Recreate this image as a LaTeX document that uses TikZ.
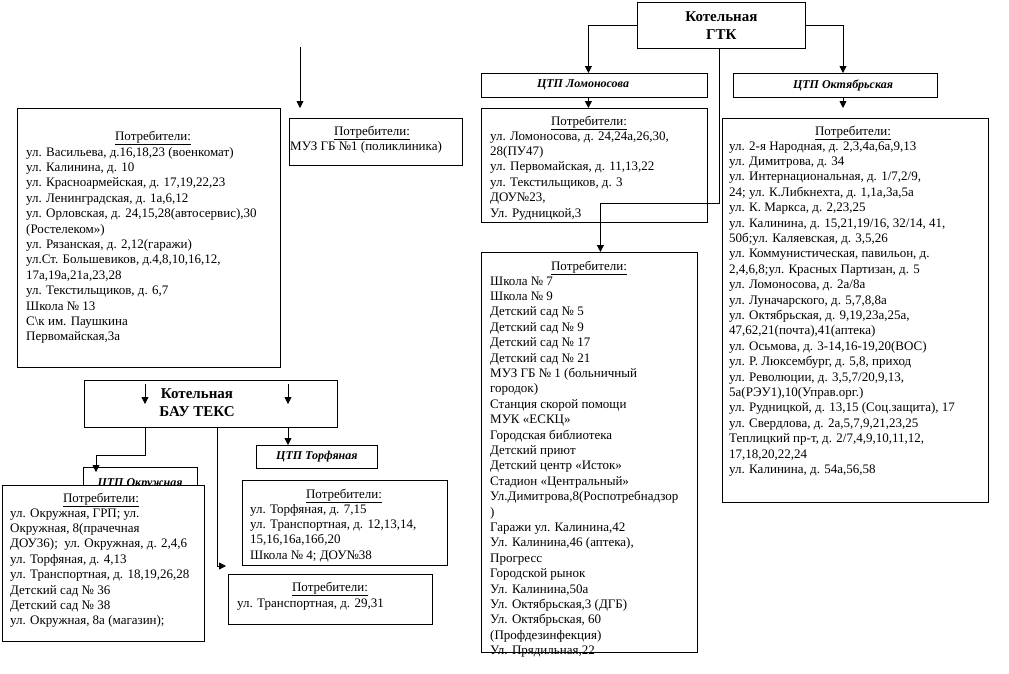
\documentclass[tikz,border=0pt]{standalone}
\usepackage{fontspec}
\setmainfont{Liberation Serif}
\usetikzlibrary{arrows.meta}
\begin{document}
\begin{tikzpicture}[x=1pt,y=-1pt,
  box/.style={draw, line width=0.8pt, fill=white, inner sep=0pt, anchor=north west},
  hd/.style={font=\fontsize{13}{15.4}\selectfont, inner sep=0pt, anchor=base},
  lst/.style={font=\fontsize{13}{15.4}\selectfont, align=left, inner sep=0pt, anchor=north west},
  ttl/.style={font=\fontsize{15}{18}\selectfont\bfseries, align=center},
  ctp/.style={font=\fontsize{12}{14}\selectfont\bfseries\itshape},
  arr/.style={line width=0.8pt, -{Triangle[length=7pt,width=7pt]}}
]
\useasboundingbox (0,0) rectangle (1009,673);

% ---------- Котельная ГТК ----------
\node[box, ttl, minimum width=168pt, minimum height=46pt] (gtk) at (637,2) {Котельная\\ГТК};
\node[box, minimum width=226pt, minimum height=24pt] (lomT) at (481,73) {};
\node[ctp] at (583,85) {ЦТП Ломоносова};
\node[box, minimum width=204pt, minimum height=24pt] (oktT) at (733,73) {};
\node[ctp] at (843,85) {ЦТП Октябрьская};

\node[box, minimum width=226pt, minimum height=114pt] (lomC) at (481,108) {};
\node[hd] at (589,125) {\underline{Потребители:}};
\node[lst] at (490,129.2) {\strut ул. Ломоносова, д. 24,24а,26,30,\\
28(ПУ47)\\
ул. Первомайская, д. 11,13,22\\
ул. Текстильщиков, д. 3\\
ДОУ№23,\\
Ул. Рудницкой,3};

\node[box, minimum width=216pt, minimum height=400pt] (bigC) at (481,252) {};
\node[hd] at (589,270) {\underline{Потребители:}};
\node[lst] at (490,274.2) {\strut Школа № 7\\
Школа № 9\\
Детский сад № 5\\
Детский сад № 9\\
Детский сад № 17\\
Детский сад № 21\\
МУЗ ГБ № 1 (больничный\\
городок)\\
Станция скорой помощи\\
МУК «ЕСКЦ»\\
Городская библиотека\\
Детский приют\\
Детский центр «Исток»\\
Стадион «Центральный»\\
Ул.Димитрова,8(Роспотребнадзор\\
)\\
Гаражи ул. Калинина,42\\
Ул. Калинина,46 (аптека),\\
Прогресс\\
Городской рынок\\
Ул. Калинина,50а\\
Ул. Октябрьская,3 (ДГБ)\\
Ул. Октябрьская, 60\\
(Профдезинфекция)\\
Ул. Прядильная,22};

\node[box, minimum width=266pt, minimum height=384pt] (oktC) at (722,118) {};
\node[hd] at (853,135) {\underline{Потребители:}};
\node[lst] at (729,139.2) {\strut ул. 2-я Народная, д. 2,3,4а,6а,9,13\\
ул. Димитрова, д. 34\\
ул. Интернациональная, д. 1/7,2/9,\\
24; ул. К.Либкнехта, д. 1,1а,3а,5а\\
ул. К. Маркса, д. 2,23,25\\
ул. Калинина, д. 15,21,19/16, 32/14, 41,\\
50б;ул. Каляевская, д. 3,5,26\\
ул. Коммунистическая, павильон, д.\\
2,4,6,8;ул. Красных Партизан, д. 5\\
ул. Ломоносова, д. 2а/8а\\
ул. Луначарского, д. 5,7,8,8а\\
ул. Октябрьская, д. 9,19,23а,25а,\\
47,62,21(почта),41(аптека)\\
ул. Осьмова, д. 3-14,16-19,20(ВОС)\\
ул. Р. Люксембург, д. 5,8, приход\\
ул. Революции, д. 3,5,7/20,9,13,\\
5а(РЭУ1),10(Управ.орг.)\\
ул. Рудницкой, д. 13,15 (Соц.защита), 17\\
ул. Свердлова, д. 2а,5,7,9,21,23,25\\
Теплицкий пр-т, д. 2/7,4,9,10,11,12,\\
17,18,20,22,24\\
ул. Калинина, д. 54а,56,58};

\coordinate (oktA) at (843,108);
\draw[arr] (gtk.west) -| ([xshift=-6pt]lomT.north);
\draw[arr] (gtk.east) -| (oktA |- oktT.north);
\draw[arr] ([xshift=-6pt]lomT.south) -- ([xshift=-6pt]lomC.north);
\draw[arr] (oktA |- oktT.south) -- (oktA);
\draw[arr] ([xshift=-2pt]gtk.south) |- ([xshift=11pt]bigC.north |- 0,203) -- ([xshift=11pt]bigC.north);

% ---------- верхний левый блок ----------
\node[box, minimum width=263pt, minimum height=259pt] (leftC) at (17,108) {};
\node[hd] at (153,140) {\underline{Потребители:}};
\node[lst] at (26,145.2) {\strut ул. Васильева, д.16,18,23 (военкомат)\\
ул. Калинина, д. 10\\
ул. Красноармейская, д. 17,19,22,23\\
ул. Ленинградская, д. 1а,6,12\\
ул. Орловская, д. 24,15,28(автосервис),30\\
(Ростелеком»)\\
ул. Рязанская, д. 2,12(гаражи)\\
ул.Ст. Большевиков, д.4,8,10,16,12,\\
17а,19а,21а,23,28\\
ул. Текстильщиков, д. 6,7\\
Школа № 13\\
С\textbackslash{}к им. Паушкина\\
Первомайская,3а};

\node[box, minimum width=173pt, minimum height=47pt] (muzC) at (289,118) {};
\node[hd] at (372,135) {\underline{Потребители:}};
\node[lst] at (290,139.2) {\strut МУЗ ГБ №1 (поликлиника)};

\coordinate (s1) at (300,47);
\coordinate (e1) at (300,108);
\draw[arr] (s1) -- (e1);

% ---------- Котельная БАУ ТЕКС ----------
\node[box, minimum width=253pt, minimum height=47pt] (bau) at (84,380) {};
\node[ttl] at (197,403) {Котельная\\БАУ ТЕКС};
\coordinate (b1s) at (145,384);
\coordinate (b1e) at (145,404);
\coordinate (b2s) at (288,384);
\coordinate (b2e) at (288,404);
\draw[arr] (b1s) -- (b1e);
\draw[arr] (b2s) -- (b2e);

\node[box, ctp, minimum width=121pt, minimum height=23pt] (torT) at (256,445) {ЦТП Торфяная};
\node[box, minimum width=114pt, minimum height=36pt] (okrT) at (83,467) {};
\node[ctp, anchor=base] at (140,486.5) {ЦТП Окружная};

\node[box, minimum width=202pt, minimum height=156pt] (okrC) at (2,485) {};
\node[hd] at (101,502) {\underline{Потребители:}};
\node[lst] at (10,506.2) {\strut ул. Окружная, ГРП; ул.\\
Окружная, 8(прачечная\\
ДОУ36);\ \ ул. Окружная, д. 2,4,6\\
ул. Торфяная, д. 4,13\\
ул. Транспортная, д. 18,19,26,28\\
Детский сад № 36\\
Детский сад № 38\\
ул. Окружная, 8а (магазин);};

\node[box, minimum width=205pt, minimum height=85pt] (torC) at (242,480) {};
\node[hd] at (344,498) {\underline{Потребители:}};
\node[lst] at (250,502.2) {\strut ул. Торфяная, д. 7,15\\
ул. Транспортная, д. 12,13,14,\\
15,16,16а,16б,20\\
Школа № 4; ДОУ№38};

\node[box, minimum width=204pt, minimum height=50pt] (trC) at (228,574) {};
\node[hd] at (330,591) {\underline{Потребители:}};
\node[lst] at (237,596.2) {\strut ул. Транспортная, д. 29,31};

\coordinate (okrA) at (96,472);
\coordinate (trA) at (226,566);
\draw[arr] (bau.south -| b1s) -- ++(0,28) -| (okrA);
\draw[arr] (bau.south -| b2s) -- (torT.north -| b2s);
\draw[arr] ([xshift=6.5pt]bau.south) |- (trA);
\end{tikzpicture}
\end{document}
